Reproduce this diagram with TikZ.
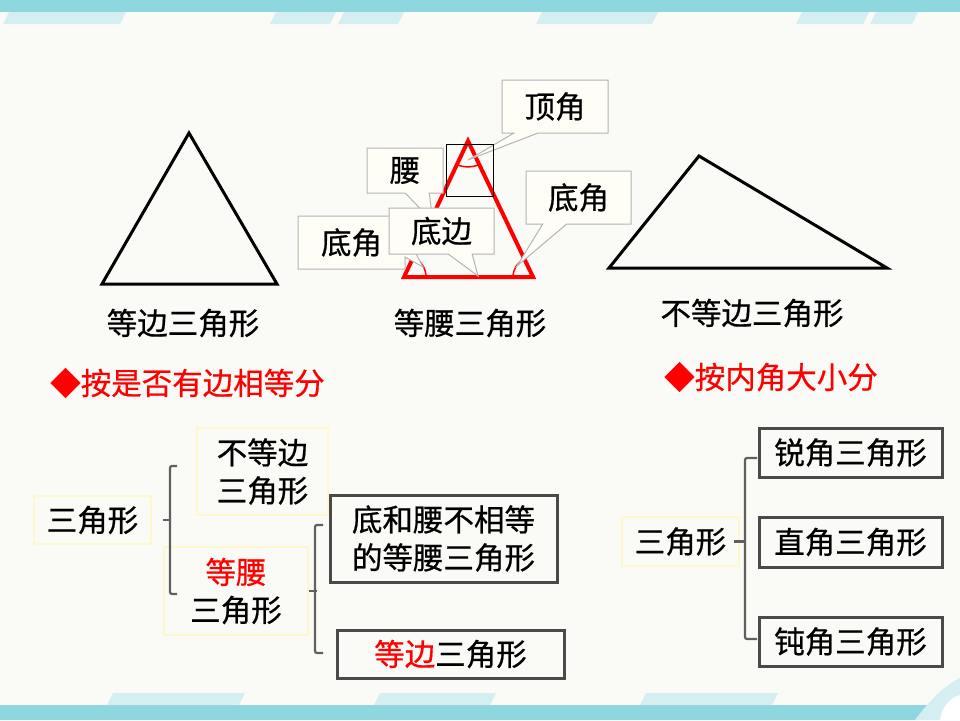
\documentclass[tikz,border=0pt]{standalone}
\usepackage{fontspec}
\newfontfamily\cjk{Noto Sans CJK SC}[FakeBold=0.6]
\usetikzlibrary{calc,shapes.callouts}
\definecolor{bandc}{HTML}{8FD7DF}
\definecolor{stripc}{HTML}{D4EEF1}
\definecolor{paper}{HTML}{FAFAF7}
\definecolor{brgray}{HTML}{5F5F5F}
\definecolor{boxgray}{HTML}{4A4A4A}
\definecolor{paley}{HTML}{FFF8CC}
\definecolor{callbg}{HTML}{FEFEF6}
\definecolor{callbd}{HTML}{B4B4B4}
\begin{document}
\begin{tikzpicture}[x=1pt,y=-1pt]

\tikzstyle{txt}=[font=\cjk\fontsize{30.5}{38}\selectfont, inner sep=0pt, align=center]
\tikzstyle{pbox}=[txt, draw=paley, line width=1.5pt]
\tikzstyle{dbox}=[txt, draw=boxgray, line width=3pt]
\tikzstyle{note}=[txt, rectangle callout, draw=callbd, fill=callbg, line width=1pt, callout pointer width=24pt]
\tikzstyle{brc}=[brgray, line width=2.2pt, rounded corners=2pt]
\tikzstyle{tri}=[line width=3pt, line join=miter]
\tikzstyle{ang}=[red, line width=1.5pt]

% page
\fill[paper] (0,0) rectangle (960,720);
\useasboundingbox (0,0) rectangle (960,720);
\fill[bandc] (0,0) rectangle (960,12);
\foreach \a/\b in {3/120, 270/330, 338/398, 536/652, 796/863, 870/912}
  \fill[stripc] (\a,24) -- (\a+6,12) -- (\b+6,12) -- (\b,24) -- cycle;
\fill[bandc] (0,705) rectangle (960,720);
\foreach \a/\b in {107/239, 374/490, 640/772}
  \fill[stripc] (\a,705) -- (\a+6,693) -- (\b+6,693) -- (\b,705) -- cycle;
\fill[stripc] (915,720) .. controls (930,700) and (945,685) .. (960,678) -- (960,720) -- cycle;
\fill[white] (940,720) .. controls (942,706) and (950,698) .. (960,695) -- (960,720) -- cycle;

% equilateral
\draw[tri] (189,133) -- (102,284) -- (277,284) -- cycle;
\node (tri1t)[txt] at (183,323) {等边三角形};

% isosceles
\coordinate (ap) at (468,141);
\coordinate (bl) at (404,277);
\coordinate (br) at (533,277);
\draw[tri, red, line width=4pt] (ap) -- (bl) -- (br) -- cycle;
\draw[ang] ([shift={(64.5:26)}]ap) arc[start angle=64.5, end angle=115.2, radius=26];
\draw[ang] ([shift={(-64.8:22)}]bl) arc[start angle=-64.8, end angle=0, radius=22];
\draw[ang] ([shift={(180:20)}]br) arc[start angle=180, end angle=244.5, radius=20];
\node (tri2t)[txt] at (470,323) {等腰三角形};

\node (n2)[note, minimum width=76pt, minimum height=45pt, callout absolute pointer={(433,222)}] at (405,170.5) {腰};
\node (n3)[note, minimum width=107pt, minimum height=53pt, callout absolute pointer={(423,267)}] at (351.5,242.5) {底角};
\node (n1)[note, minimum width=106pt, minimum height=53pt, callout absolute pointer={(468,160)}] at (555,106.5) {顶角};
\node (n4)[note, minimum width=105pt, minimum height=53pt, callout absolute pointer={(517,266)}] at (578.5,197.5) {底角};
\draw[line width=1pt] (446,144) rectangle (493,196);
\node (n5)[note, minimum width=105pt, minimum height=46pt, callout absolute pointer={(478,276)}] at (441.5,231) {底边};

% scalene
\draw[tri] (699,156) -- (609,268) -- (887,268) -- cycle;
\node (tri3t)[txt] at (752,313) {不等边三角形};

% headings
\node (h1)[txt, red] at (187.5,383) {◆按是否有边相等分};
\node (h2)[txt, red] at (771,377) {◆按内角大小分};

% by sides
\node (r1)[pbox, minimum width=117pt, minimum height=48pt] at (92.5,520) {三角形};
\node (c1)[pbox, minimum width=131pt, minimum height=87pt] at (262.5,471.5) {不等边\\三角形};
\node (c2)[pbox, minimum width=144pt, minimum height=88pt] at (236,591) {\textcolor{red}{等腰}\\三角形};
\node (g1)[dbox, minimum width=227pt, minimum height=87pt] at (443.5,538.5) {底和腰不相等\\的等腰三角形};
\node (g2)[dbox, minimum width=227pt, minimum height=48pt] at (450.5,654) {\textcolor{red}{等边}三角形};

\coordinate (b1t) at (177,466);
\coordinate (b1b) at (177,594);
\draw[brc] ([xshift=11]r1.east) -- ++(8,0);
\draw[brc] (b1t) -| ($(b1t)!0.5!(b1b)+(-7,0)$) |- (b1b);

\coordinate (b2t) at (323,525);
\coordinate (b2b) at (323,653);
\draw[brc] (c2.east) -- ++(8,0);
\draw[brc] (b2t) -| ($(b2t)!0.5!(b2b)+(-8,0)$) |- (b2b);

% by angles
\node (r2)[pbox, minimum width=117pt, minimum height=49pt] at (680.5,541.5) {三角形};
\node (k1)[dbox, minimum width=183pt, minimum height=49pt] at (850.5,452.5) {锐角三角形};
\node (k2)[dbox, minimum width=183pt, minimum height=50pt] at (850.5,542) {直角三角形};
\node (k3)[dbox, minimum width=183pt, minimum height=49pt] at (850.5,641.5) {钝角三角形};

\coordinate (b3t) at (757,458);
\coordinate (b3b) at (757,639);
\draw[brc] ([xshift=-6]r2.east) -- ++(12,0);
\draw[brc] (b3t) -| ($(b3t)!0.5!(b3b)+(-12,0)$) |- (b3b);

\end{tikzpicture}
\end{document}
